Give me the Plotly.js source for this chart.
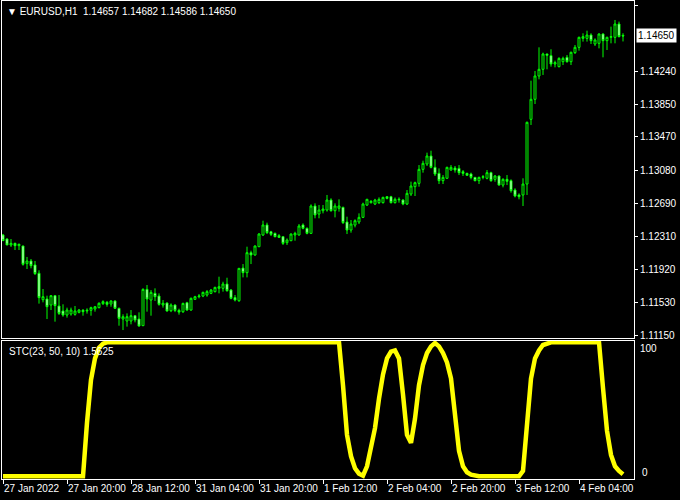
<!DOCTYPE html>
<html>
<head>
<meta charset="utf-8">
<script src="https://cdn.plot.ly/plotly-3.0.1.min.js"></script>
<style>html,body{margin:0;padding:0;background:#000;}#chart{width:680px;height:500px;}</style>
</head>
<body>
<div id="chart"></div>
<script>
// ---- DATA ----
var tickIndex = [0, 16, 32, 48, 64, 80, 96, 112, 128, 144];
var tickLabels = ["27 Jan 2022", "27 Jan 20:00", "28 Jan 12:00", "31 Jan 04:00", "31 Jan 20:00",
                  "1 Feb 12:00", "2 Feb 04:00", "2 Feb 20:00", "3 Feb 12:00", "4 Feb 04:00"];
var priceTicks = [1.11150, 1.11530, 1.11920, 1.12310, 1.12690, 1.13080, 1.13470, 1.13850, 1.14240, 1.15010];

var open = [1.12322,1.12275,1.12205,1.12224,1.12197,1.12193,1.11987,1.12018,1.11971,1.11874,
1.11565,1.11573,1.11503,1.11612,1.11491,1.11433,1.11386,1.11398,1.11394,1.11417,
1.11441,1.11433,1.11441,1.11456,1.11472,1.11519,1.11534,1.11515,1.11550,1.11464,
1.11339,1.11316,1.11316,1.11378,1.11339,1.11261,1.11686,1.11561,1.11639,1.11608,
1.11503,1.11526,1.11436,1.11503,1.11440,1.11424,1.11530,1.11444,1.11569,1.11600,
1.11608,1.11620,1.11639,1.11659,1.11698,1.11698,1.11748,1.11678,1.11590,1.11553,
1.11935,1.11881,1.12115,1.12088,1.12185,1.12322,1.12439,1.12360,1.12341,1.12314,
1.12302,1.12232,1.12255,1.12322,1.12322,1.12439,1.12400,1.12341,1.12661,1.12567,
1.12606,1.12614,1.12731,1.12606,1.12634,1.12645,1.12474,1.12380,1.12438,1.12474,
1.12528,1.12672,1.12700,1.12684,1.12700,1.12700,1.12770,1.12770,1.12700,1.12733,
1.12731,1.12684,1.12801,1.12887,1.12926,1.13090,1.13152,1.13246,1.13113,1.13043,
1.12957,1.12985,1.13082,1.13105,1.13101,1.13062,1.13043,1.13035,1.12996,1.12957,
1.12996,1.12985,1.13051,1.12973,1.13012,1.12906,1.12973,1.12957,1.12848,1.12790,
1.12790,1.12918,1.13675,1.13909,1.14182,1.14260,1.14439,1.14420,1.14322,1.14291,
1.14349,1.14400,1.14349,1.14455,1.14517,1.14622,1.14622,1.14661,1.14556,1.14564,
1.14673,1.14595,1.14634,1.14634,1.14790,1.14657];
var high = [1.12334,1.12283,1.12275,1.12232,1.12221,1.12197,1.12065,1.12041,1.12018,1.11909,
1.11690,1.11612,1.11620,1.11620,1.11620,1.11511,1.11472,1.11472,1.11491,1.11456,
1.11456,1.11464,1.11483,1.11491,1.11534,1.11558,1.11550,1.11558,1.11558,1.11472,
1.11394,1.11405,1.11444,1.11386,1.11417,1.11698,1.11737,1.11678,1.11698,1.11639,
1.11561,1.11534,1.11522,1.11510,1.11460,1.11530,1.11540,1.11590,1.11610,1.11631,
1.11659,1.11678,1.11690,1.11717,1.11834,1.11775,1.11822,1.11690,1.11620,1.11935,
1.11982,1.12185,1.12138,1.12200,1.12345,1.12489,1.12466,1.12370,1.12350,1.12333,
1.12310,1.12282,1.12340,1.12360,1.12450,1.12458,1.12410,1.12680,1.12692,1.12673,
1.12673,1.12790,1.12751,1.12692,1.12739,1.12653,1.12536,1.12497,1.12505,1.12575,
1.12700,1.12745,1.12730,1.12745,1.12762,1.12770,1.12778,1.12780,1.12760,1.12762,
1.12740,1.12848,1.12946,1.12946,1.13140,1.13191,1.13285,1.13308,1.13207,1.13101,
1.13023,1.13121,1.13140,1.13129,1.13140,1.13082,1.13050,1.13051,1.13000,1.13004,
1.13023,1.13082,1.13062,1.13023,1.13020,1.12985,1.13023,1.12973,1.12868,1.12809,
1.12985,1.13648,1.14127,1.14240,1.14517,1.14455,1.14443,1.14494,1.14361,1.14400,
1.14408,1.14427,1.14466,1.14544,1.14642,1.14681,1.14712,1.14681,1.14622,1.14681,
1.14681,1.14642,1.14759,1.14837,1.14818,1.14682];
var low = [1.12256,1.12205,1.12182,1.12146,1.12146,1.11963,1.11924,1.11932,1.11854,1.11519,
1.11534,1.11339,1.11444,1.11308,1.11386,1.11366,1.11355,1.11378,1.11378,1.11405,
1.11378,1.11402,1.11378,1.11425,1.11464,1.11503,1.11483,1.11483,1.11456,1.11261,
1.11210,1.11250,1.11277,1.11300,1.11250,1.11257,1.11425,1.11378,1.11550,1.11495,
1.11472,1.11425,1.11420,1.11420,1.11390,1.11410,1.11436,1.11436,1.11561,1.11581,
1.11595,1.11600,1.11630,1.11650,1.11639,1.11659,1.11659,1.11570,1.11545,1.11540,
1.11826,1.11826,1.11982,1.12080,1.12180,1.12310,1.12333,1.12310,1.12295,1.12290,
1.12205,1.12205,1.12250,1.12255,1.12315,1.12388,1.12330,1.12335,1.12517,1.12517,
1.12575,1.12595,1.12595,1.12528,1.12595,1.12450,1.12333,1.12349,1.12411,1.12450,
1.12520,1.12661,1.12690,1.12672,1.12684,1.12690,1.12739,1.12690,1.12690,1.12700,
1.12670,1.12672,1.12778,1.12778,1.12887,1.13051,1.13129,1.13101,1.13012,1.12918,
1.12918,1.12980,1.13074,1.13051,1.13023,1.13012,1.13015,1.12973,1.12950,1.12918,
1.12973,1.12973,1.12945,1.12945,1.12900,1.12879,1.12906,1.12817,1.12762,1.12739,
1.12661,1.12790,1.13609,1.13854,1.14143,1.14194,1.14260,1.14291,1.14283,1.14283,
1.14310,1.14338,1.14310,1.14439,1.14478,1.14584,1.14584,1.14556,1.14533,1.14505,
1.14400,1.14486,1.14564,1.14564,1.14634,1.14586];
var close = [1.12256,1.12205,1.12224,1.12197,1.12213,1.11979,1.12018,1.11963,1.11870,1.11589,
1.11600,1.11483,1.11612,1.11495,1.11405,1.11386,1.11444,1.11444,1.11433,1.11444,
1.11425,1.11441,1.11472,1.11483,1.11523,1.11542,1.11511,1.11550,1.11464,1.11347,
1.11366,1.11366,1.11378,1.11328,1.11257,1.11686,1.11573,1.11651,1.11600,1.11511,
1.11523,1.11433,1.11503,1.11440,1.11420,1.11522,1.11444,1.11581,1.11600,1.11608,
1.11651,1.11659,1.11678,1.11709,1.11717,1.11748,1.11670,1.11581,1.11561,1.11932,
1.11881,1.12115,1.12088,1.12193,1.12333,1.12439,1.12349,1.12330,1.12302,1.12294,
1.12224,1.12263,1.12333,1.12341,1.12427,1.12400,1.12341,1.12661,1.12556,1.12614,
1.12626,1.12731,1.12606,1.12661,1.12661,1.12466,1.12380,1.12450,1.12489,1.12528,
1.12684,1.12739,1.12716,1.12731,1.12739,1.12762,1.12750,1.12700,1.12739,1.12739,
1.12684,1.12809,1.12895,1.12934,1.13090,1.13160,1.13246,1.13113,1.13035,1.12957,
1.12996,1.13113,1.13113,1.13082,1.13051,1.13043,1.13020,1.12996,1.12957,1.12996,
1.13004,1.13051,1.12957,1.13012,1.12906,1.12973,1.12950,1.12840,1.12778,1.12770,
1.12918,1.13640,1.13909,1.14182,1.14260,1.14439,1.14424,1.14322,1.14338,1.14388,
1.14388,1.14349,1.14459,1.14517,1.14634,1.14642,1.14661,1.14595,1.14603,1.14673,
1.14595,1.14634,1.14642,1.14790,1.14642,1.14650];
var stc = [0,0,0,0,0,0,0,0,0,0,
0,0,0,0,0,0,0,0,0,0,
0,40,72,88,96,99,100,100,100,100,
100,100,100,100,100,100,100,100,100,100,
100,100,100,100,100,100,100,100,100,100,
100,100,100,100,100,100,100,100,100,100,
100,100,100,100,100,100,100,100,100,100,
100,100,100,100,100,100,100,100,100,100,
100,100,100,100,100,68,31,15,6,2,
0.5,7.5,21,36,58,76,88,93,94,88,
61,31,25,43,68,83,92,97,99.5,97,
92,85,73,46,19,7.5,3,1.2,0.5,0,
0,0,0,0,0,0,0,0,0,0,
4,44,73,88,94,98,99,100,100,100,
100,100,100,100,100,100,100,100,100,100,
66,34,16,7.5,4,1.5625];
var symbolTitle = "\u25BC EURUSD,H1  1.14657 1.14682 1.14586 1.14650";
var stcLabel = "STC(23, 50, 10) 1.5625";
var lastPrice = 1.14650;

// ---- CHART ----
var idx = close.map(function(_, i){ return i; });
var FONT = 'Liberation Sans, Arial, sans-serif';

var candles = {
  type: 'candlestick', x: idx, open: open, high: high, low: low, close: close,
  xaxis: 'x', yaxis: 'y',
  increasing: {line: {color: '#00FF00', width: 1}, fillcolor: '#000000'},
  decreasing: {line: {color: '#00FF00', width: 1}, fillcolor: '#FFFFFF'},
  whiskerwidth: 0, hoverinfo: 'skip'
};
var stcLine = {
  type: 'scatter', mode: 'lines', x: idx, y: stc, xaxis: 'x2', yaxis: 'y2',
  line: {color: '#FFFF00', width: 4.5}, hoverinfo: 'skip'
};
// empty helper trace so the overlaying axis for the "100" label is drawn
var levelAxisHolder = {
  type: 'scatter', mode: 'lines', x: [], y: [], xaxis: 'x2', yaxis: 'y3', hoverinfo: 'skip'
};

var xr = [-0.25, 157.75];
var stcRange = [-2.0, 101.0];
var axisFont = {family: FONT, size: 10, color: '#FFFFFF'};
var layout = {
  width: 680, height: 500,
  margin: {l: 2, r: 46, t: 1, b: 21},
  paper_bgcolor: '#000000', plot_bgcolor: '#000000',
  showlegend: false,
  font: {family: FONT, size: 10, color: '#FFFFFF'},
  xaxis: {anchor: 'y', range: xr, showgrid: false, zeroline: false, showticklabels: false,
          ticks: '', showline: true, linecolor: '#FFFFFF', linewidth: 1, mirror: true,
          rangeslider: {visible: false}, fixedrange: true},
  xaxis2: {anchor: 'y2', range: xr, showgrid: false, zeroline: false,
           tickmode: 'array', tickvals: tickIndex, ticktext: tickLabels, tickangle: 0,
           ticks: 'outside', ticklen: 4, tickcolor: '#FFFFFF', tickwidth: 1,
           ticklabelposition: 'outside right', ticklabelstandoff: 0,
           tickfont: axisFont,
           showline: true, linecolor: '#FFFFFF', linewidth: 1, mirror: true, fixedrange: true},
  yaxis: {domain: [0.29498, 1], anchor: 'x', side: 'right', range: [1.11117, 1.15059],
          tickmode: 'array', tickvals: priceTicks, tickformat: '.5f',
          ticks: 'outside', ticklen: 3, tickcolor: '#FFFFFF',
          tickfont: axisFont,
          showgrid: false, zeroline: false, showline: true, linecolor: '#FFFFFF',
          linewidth: 1, mirror: true, fixedrange: true},
  yaxis2: {domain: [0, 0.2887], anchor: 'x2', side: 'right', range: stcRange,
           tickmode: 'array', tickvals: [0], ticktext: ['0'],
           ticks: '', ticklabelstandoff: 5, ticklabelshift: -4,
           tickfont: axisFont,
           showgrid: false, zeroline: false, showline: true, linecolor: '#FFFFFF',
           linewidth: 1, mirror: true, fixedrange: true},
  yaxis3: {anchor: 'x2', overlaying: 'y2', side: 'right', range: stcRange,
           tickmode: 'array', tickvals: [100], ticktext: ['100'],
           ticks: '', ticklabelstandoff: 5, ticklabelshift: 6,
           tickfont: axisFont,
           showgrid: false, zeroline: false, showline: false, fixedrange: true},
  annotations: [
    {xref: 'paper', yref: 'paper', x: 0.004, y: 1, xanchor: 'left', yanchor: 'top', yshift: -3,
     text: symbolTitle, showarrow: false, font: {family: FONT, size: 10, color: '#FFFFFF'}},
    {xref: 'paper', yref: 'paper', x: 0.008, y: 0.2887, xanchor: 'left', yanchor: 'top', yshift: -3,
     text: stcLabel, showarrow: false, font: {family: FONT, size: 10, color: '#FFFFFF'}},
    {xref: 'paper', yref: 'y', x: 1, y: lastPrice, xanchor: 'left', yanchor: 'middle', xshift: 2,
     text: lastPrice.toFixed(5), showarrow: false, bgcolor: '#FFFFFF', borderpad: 1,
     font: {family: FONT, size: 10, color: '#000000'}}
  ]
};

Plotly.newPlot('chart', [candles, stcLine, levelAxisHolder], layout, {staticPlot: true, displayModeBar: false});
</script>
</body>
</html>
